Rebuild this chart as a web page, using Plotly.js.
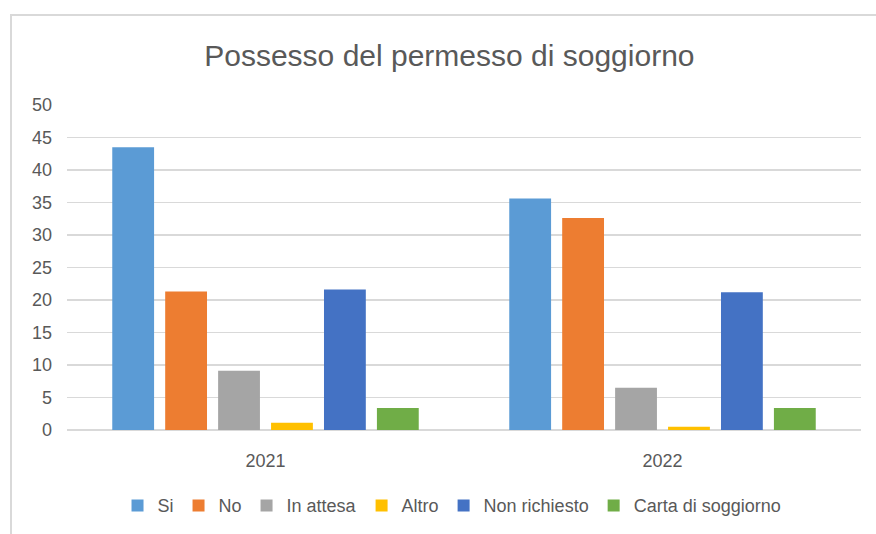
<!DOCTYPE html>
<html>
<head>
<meta charset="utf-8">
<script src="https://cdn.plot.ly/plotly-3.0.1.min.js"></script>
<style>
  body { margin: 0; background: #fff; }
  #frame { position: absolute; left: 10px; top: 14px; width: 900px; height: 600px;
           border-left: 2px solid #d9d9d9; border-top: 2px solid #d9d9d9; }
  #chart { position: absolute; left: 0; top: 0; width: 876px; height: 534px; }
</style>
</head>
<body>
<div id="frame"></div>
<div id="chart"></div>
<script>
let years = ["2021", "2022"];
let si = [43.5, 35.6];
let no = [21.3, 32.6];
let inAttesa = [9.1, 6.5];
let altro = [1.1, 0.5];
let nonRichiesto = [21.6, 21.2];
let carta = [3.4, 3.4];

let seriesNames = ["Si", "No", "In attesa", "Altro", "Non richiesto", "Carta di soggiorno"];
let seriesValues = [si, no, inAttesa, altro, nonRichiesto, carta];
let seriesColors = ["#5b9bd5", "#ed7d31", "#a5a5a5", "#ffc000", "#4472c4", "#70ad47"];

let data = seriesNames.map(function (name, i) {
  return {
    x: years,
    y: seriesValues[i],
    name: name,
    type: "bar",
    marker: { color: seriesColors[i] },
    hoverinfo: "y+name",
  };
});

let font = "Liberation Sans, Arial, sans-serif";
let layout = {
  width: 876,
  height: 534,
  paper_bgcolor: "rgba(0,0,0,0)",
  plot_bgcolor: "rgba(0,0,0,0)",
  font: { family: font, color: "#595959", size: 18 },
  title: {
    text: "Possesso del permesso di soggiorno",
    font: { family: font, size: 30, color: "#595959" },
    x: 0.513, xanchor: "center", y: 0.897, yanchor: "middle",
  },
  margin: { l: 67, r: 15, t: 105, b: 104 },
  barmode: "group",
  bargap: 0.2,
  bargroupgap: 0.21,
  xaxis: {
    showgrid: false,
    showline: false,
    ticks: "",
    automargin: false,
    tickfont: { size: 18, color: "#595959" },
    ticklabelstandoff: 18,
  },
  yaxis: {
    range: [0, 50],
    dtick: 5,
    showline: false,
    automargin: false,
    gridcolor: "#d9d9d9",
    gridwidth: 1.5,
    zerolinecolor: "#d9d9d9",
    zerolinewidth: 1.5,
    ticks: "",
    tickfont: { size: 18, color: "#595959" },
    ticklabelstandoff: 14,
  },
  showlegend: true,
  legend: {
    orientation: "h",
    xref: "container", yref: "container",
    x: 0.516, xanchor: "center",
    y: 0.053, yanchor: "middle",
    font: { size: 18, color: "#595959" },
    itemwidth: 20,
    tracegroupgap: 0,
  },
};

Plotly.newPlot("chart", data, layout, { displayModeBar: false, staticPlot: true });
</script>
</body>
</html>
